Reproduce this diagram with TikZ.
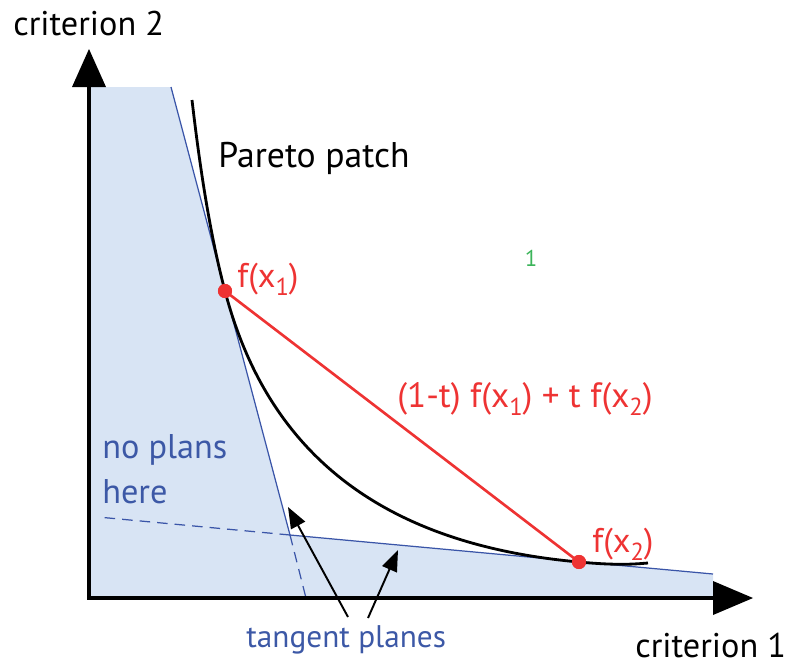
\documentclass[tikz,border=0pt]{standalone}
\usepackage{fontspec}
\setmainfont{PT Sans}
\usetikzlibrary{arrows.meta}
\definecolor{fillblue}{HTML}{D8E4F4}
\definecolor{lineblue}{HTML}{3A55A8}
\definecolor{textblue}{HTML}{3C58A6}
\definecolor{myred}{HTML}{EE3333}
\definecolor{mygreen}{HTML}{3CB45A}
\newcommand{\sbs}[1]{\raisebox{-0.5ex}{\fontsize{14}{14}\selectfont #1}}
\tikzset{
  lbl/.style={inner sep=0pt, anchor=base west, font=\fontsize{19.5}{23}\selectfont},
  redlbl/.style={lbl, text=myred},
  bluelbl/.style={lbl, text=textblue},
  axisline/.style={line width=2.2pt, black},
  tline/.style={line width=0.7pt, lineblue},
  tdash/.style={tline, dash pattern=on 6pt off 4pt},
  curve/.style={line width=1.6pt, black},
  redline/.style={line width=1.5pt, myred},
  dot/.style={circle, fill=myred, minimum size=8pt, inner sep=0pt},
  pointer/.style={line width=1.1pt, black, -{Triangle[length=12pt,width=9pt]}},
}
\begin{document}
\begin{tikzpicture}[x=0.02cm,y=-0.02cm]
\useasboundingbox (0,0) rectangle (787,664);
% coordinates
\coordinate (O) at (89,598);
\coordinate (Ytop) at (89,87);
\coordinate (Xend) at (713,598);
\coordinate (TL) at (171,87);
\coordinate (X) at (290,535);
\coordinate (TR) at (713,574);
\coordinate (TLd) at (306,598);
\coordinate (TRd) at (98,517);
% shaded region
\fill[fillblue] (O) -- (Ytop) -- (TL) -- (X) -- (TR) -- (Xend) -- cycle;
% tangent lines
\draw[tline] (TL) -- (X) -- (TR);
\draw[tdash] (X) -- (TLd);
\draw[tdash] (X) -- (TRd);
% axes
\draw[axisline] (Ytop) -- (O) -- (Xend);
\fill[black] (89,49) -- (72,87) -- (106,87) -- cycle;
\fill[black] (753,598) -- (713,581) -- (713,615) -- cycle;
% Pareto curve
\draw[curve] (192,100) .. controls (199,160) and (209,231) .. (225,291)
  .. controls (267,451) and (379,544) .. (579,562)
  .. controls (619,565.7) and (635,564) .. (648,563);
% red segment
\node[dot] (F1) at (225,291) {};
\node[dot] (F2) at (579,562) {};
\draw[redline] (F1.center) -- (F2.center);
\node[dot] at (F1) {};
\node[dot] at (F2) {};
% labels
\node[lbl] (c2) at (13,35) {criterion 2};
\node[lbl] (c1) at (635,657) {criterion 1};
\node[lbl, font=\fontsize{20.3}{24}\selectfont] (pp) at (218,167) {Pareto patch};
\node[redlbl] (l1) at (237,287) {f(x\sbs{1})};
\node[redlbl] (l2) at (592,552) {f(x\sbs{2})};
\node[redlbl, font=\fontsize{20}{24}\selectfont] (lc) at (397,407) {(1-t) f(x\sbs{1}) + t f(x\sbs{2})};
\node[bluelbl] (np) at (102,458) {no plans};
\node[bluelbl] (hr) at (102,503) {here};
\node[bluelbl, font=\fontsize{17.8}{21}\selectfont] (tp) at (246,647) {tangent planes};
\node[inner sep=0pt, anchor=base, text=mygreen, font=\fontsize{13}{15}\selectfont] (g1) at (531,266) {1};
% pointers
\coordinate (A1) at (288,507);
\coordinate (A2) at (398,550);
\coordinate (S1) at (348,617);
\coordinate (S2) at (368,618);
\draw[pointer] (S1) -- (A1);
\draw[pointer] (S2) -- (A2);
\end{tikzpicture}
\end{document}
